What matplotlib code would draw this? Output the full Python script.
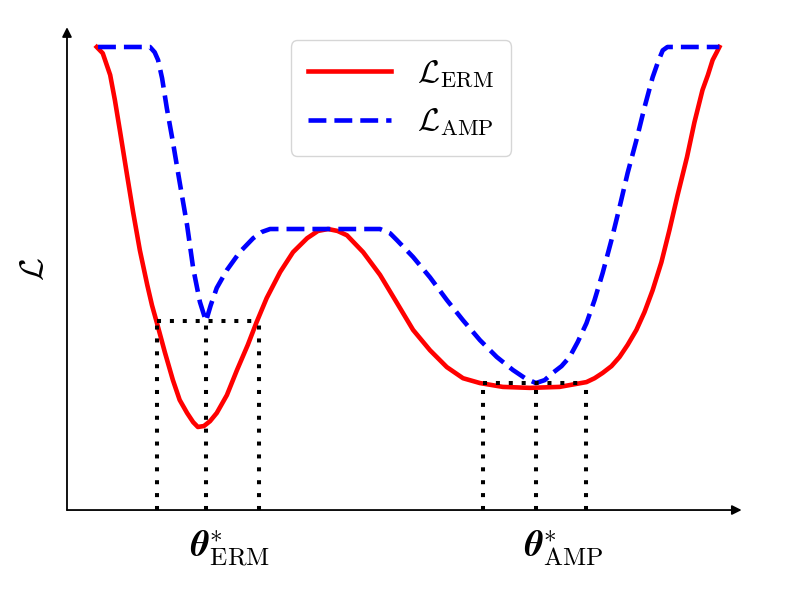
import matplotlib
matplotlib.use("Agg")
import matplotlib.pyplot as plt

plt.rcParams['mathtext.fontset'] = 'cm'

# curve values (theta, loss), axes run 0..10
theta_erm = [0.44, 0.53, 0.64, 0.71, 0.79, 0.89, 0.98, 1.08, 1.19, 1.26, 1.33, 1.45,
             1.57, 1.67, 1.78, 1.87, 1.94, 2.03, 2.12, 2.22, 2.37, 2.52, 2.68, 2.81,
             2.96, 3.16, 3.35, 3.56, 3.72, 3.87, 4.01, 4.15, 4.39, 4.64, 4.89, 5.13,
             5.38, 5.63, 5.87, 6.12, 6.46, 6.86, 7.30, 7.70, 7.82, 7.94, 8.07, 8.19,
             8.31, 8.44, 8.56, 8.68, 8.81, 8.93, 9.05, 9.19, 9.30, 9.42, 9.50, 9.57,
             9.63, 9.67]
loss_erm = [9.59, 9.46, 9.01, 8.49, 7.81, 6.94, 6.17, 5.38, 4.66, 4.24, 3.89, 3.27,
            2.69, 2.28, 2.01, 1.82, 1.72, 1.74, 1.84, 2.01, 2.38, 2.90, 3.42, 3.89,
            4.39, 4.93, 5.34, 5.63, 5.78, 5.82, 5.78, 5.69, 5.34, 4.87, 4.29, 3.73,
            3.31, 2.96, 2.73, 2.63, 2.55, 2.53, 2.55, 2.65, 2.73, 2.84, 2.98, 3.17,
            3.42, 3.73, 4.10, 4.55, 5.13, 5.80, 6.52, 7.31, 8.03, 8.70, 9.01, 9.32,
            9.48, 9.59]

theta_amp = [0.46, 1.23, 1.30, 1.35, 1.41, 1.48, 1.57, 1.67, 1.78, 1.87, 1.97, 2.06,
             2.13, 2.22, 2.37, 2.56, 2.76, 2.89, 3.01, 4.64, 4.79, 4.89, 5.13, 5.38,
             5.63, 5.87, 6.12, 6.37, 6.61, 6.79, 6.95, 7.08, 7.20, 7.33, 7.45, 7.57,
             7.70, 7.82, 7.94, 8.07, 8.19, 8.31, 8.44, 8.56, 8.68, 8.76, 8.83, 8.90,
             9.67]
loss_amp = [9.59, 9.59, 9.48, 9.32, 8.94, 8.32, 7.62, 6.79, 5.90, 5.01, 4.31, 3.91,
            4.24, 4.60, 4.97, 5.34, 5.63, 5.76, 5.82, 5.82, 5.73, 5.59, 5.24, 4.82,
            4.35, 3.93, 3.52, 3.17, 2.90, 2.73, 2.63, 2.69, 2.84, 2.98, 3.17, 3.48,
            3.87, 4.35, 4.91, 5.59, 6.27, 6.98, 7.66, 8.34, 8.96, 9.28, 9.52, 9.59,
            9.59]

# neighbourhoods around the two minima: (left, centre, right), level
nbhd_erm = [1.33, 2.06, 2.84]
level_erm = 3.91
nbhd_amp = [6.16, 6.95, 7.69]
level_amp = 2.63

fig = plt.figure(figsize=(7.9, 5.91), dpi=100)
ax = fig.add_axes([0.0848, 0.137, 0.854, 0.817])
ax.set_xlim(0, 10)
ax.set_ylim(0, 10)

ax.plot(theta_erm, loss_erm, color='red', lw=3.3, label=r'$\mathcal{L}_{\mathrm{ERM}}$',
        solid_joinstyle='round')
ax.plot(theta_amp, loss_amp, color='blue', lw=3.3, linestyle=(0, (3.9, 1.75)),
        dash_joinstyle='round', label=r'$\mathcal{L}_{\mathrm{AMP}}$')

dot = dict(color='black', lw=2.9, linestyle=(0, (1, 2.2)))
for xs, lev in [(nbhd_erm, level_erm), (nbhd_amp, level_amp)]:
    ax.plot([xs[0], xs[2]], [lev, lev], **dot)
    for x in xs:
        ax.plot([x, x], [0, lev], **dot)

# axes drawn as arrows
for s in ax.spines.values():
    s.set_visible(False)
ax.set_xticks([])
ax.set_yticks([])
arrow = dict(arrowstyle='-|>', color='black', lw=1.3, mutation_scale=14,
             shrinkA=0, shrinkB=0)
ax.annotate('', xy=(1, 0), xytext=(0, 0), xycoords='axes fraction',
            textcoords='axes fraction', arrowprops=arrow)
ax.annotate('', xy=(0, 1), xytext=(0, 0), xycoords='axes fraction',
            textcoords='axes fraction', arrowprops=arrow)

ax.set_ylabel(r'$\mathcal{L}$', fontsize=24, labelpad=12)

ax.text(2.41, -0.8, r'$\boldsymbol{\theta}^{*}_{\mathrm{ERM}}$', fontsize=26,
        ha='center', va='center', clip_on=False)
ax.text(7.37, -0.8, r'$\boldsymbol{\theta}^{*}_{\mathrm{AMP}}$', fontsize=26,
        ha='center', va='center', clip_on=False)

ax.legend(loc='upper center', bbox_to_anchor=(0.495, 0.973), borderaxespad=0,
          fontsize=23, handlelength=2.6, borderpad=0.55, labelspacing=0.55)

fig.savefig('out.png', dpi=100)
